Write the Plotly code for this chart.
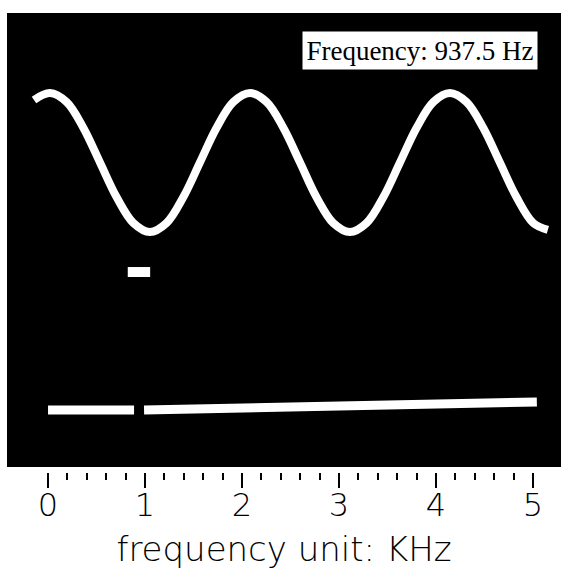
import plotly.graph_objects as go

# ---- data ----
# time-domain waveform (time in ms, normalized amplitude)
wave_t = [0.0, 0.085, 0.174, 0.263, 0.352, 0.441, 0.530, 0.618, 0.707, 0.796, 0.885,
          0.974, 1.063, 1.152, 1.241, 1.330, 1.419, 1.507, 1.596, 1.685, 1.774, 1.863,
          1.952, 2.041, 2.130, 2.218, 2.307, 2.396, 2.485, 2.574, 2.663, 2.741]
wave_v = [0.9, 1.0, 0.87, 0.5, 0.0, -0.5, -0.87, -1.0, -0.87, -0.5, 0.0,
          0.5, 0.87, 1.0, 0.87, 0.5, 0.0, -0.5, -0.87, -1.0, -0.87, -0.5,
          0.0, 0.5, 0.87, 1.0, 0.87, 0.5, 0.0, -0.5, -0.87, -0.97]

# spectrum baseline (frequency kHz, magnitude) with a gap at the peak
spec_f = [0.0, 0.887, None, 0.99, 2.0, 3.0, 4.0, 5.04]
spec_m = [0.0, 0.0, None, 0.0, 0.015, 0.03, 0.045, 0.058]

# spectral peak
peak_f = [0.9375]
peak_m = [1.0]

tick_vals = [0, 1, 2, 3, 4, 5]
tick_text = ["0", "1", "2", "3", "4", "5"]
minor_tick_vals = [0.2, 0.4, 0.6, 0.8, 1.2, 1.4, 1.6, 1.8, 2.2, 2.4, 2.6, 2.8,
                   3.2, 3.4, 3.6, 3.8, 4.2, 4.4, 4.6, 4.8]
label_text = "Frequency: 937.5 Hz"
axis_title = "frequency unit: KHz"

W, H = 561, 577
ml, mr, mt, mb = 7, 0, 13, 105
plot_h = H - mt - mb

fig = go.Figure()

fig.add_trace(go.Scatter(
    x=wave_t, y=wave_v, xaxis="x2", yaxis="y2", mode="lines",
    line=dict(color="white", width=8, shape="spline", smoothing=1.0),
    hoverinfo="skip", showlegend=False))

fig.add_trace(go.Scatter(
    x=spec_f, y=spec_m, mode="lines",
    line=dict(color="white", width=9),
    connectgaps=False, hoverinfo="skip", showlegend=False))

fig.add_trace(go.Scatter(
    x=peak_f, y=peak_m, mode="markers",
    marker=dict(symbol="line-ew", size=16, color="white",
                line=dict(color="white", width=10)),
    hoverinfo="skip", showlegend=False))

# black screen panel
fig.add_shape(type="rect", xref="paper", yref="paper",
              x0=0, x1=1, y0=5 / plot_h, y1=1,
              fillcolor="black", line=dict(width=0), layer="below")

fig.add_annotation(
    text=label_text, xref="paper", yref="paper",
    x=(538 - ml) / (W - ml - mr), y=(472 - 50.5) / plot_h,
    xanchor="right", yanchor="middle", showarrow=False,
    font=dict(family="Liberation Serif", size=27, color="black"),
    bgcolor="white", width=228, height=31, borderpad=3, align="center")

tick_font = "DejaVu Sans"

fig.update_layout(
    width=W, height=H,
    margin=dict(l=ml, r=mr, t=mt, b=mb, autoexpand=False),
    paper_bgcolor="white", plot_bgcolor="white",
    xaxis=dict(range=[-0.423, 5.289], tickvals=tick_vals, ticktext=tick_text,
               ticks="outside", ticklen=15, tickwidth=1.5, tickcolor="black",
               ticklabelstandoff=-10, automargin=False,
               minor=dict(tickvals=minor_tick_vals, ticks="outside", ticklen=7,
                          tickwidth=1.5, tickcolor="black", showgrid=False),
               showgrid=False, zeroline=False, showline=False,
               tickfont=dict(family=tick_font, size=32, color="black", weight=200),
               title=dict(text=axis_title, standoff=13,
                          font=dict(family=tick_font, size=34, color="black", weight=200))),
    xaxis2=dict(range=[-0.144, 2.811], overlaying="x", visible=False),
    yaxis=dict(range=[-0.449, 2.877], visible=False),
    yaxis2=dict(range=[-4.453, 2.151], overlaying="y", visible=False),
)

fig.write_html("out.html", config={"displayModeBar": False},
               post_script="document.body.style.margin='0px';document.body.style.overflow='hidden';")
